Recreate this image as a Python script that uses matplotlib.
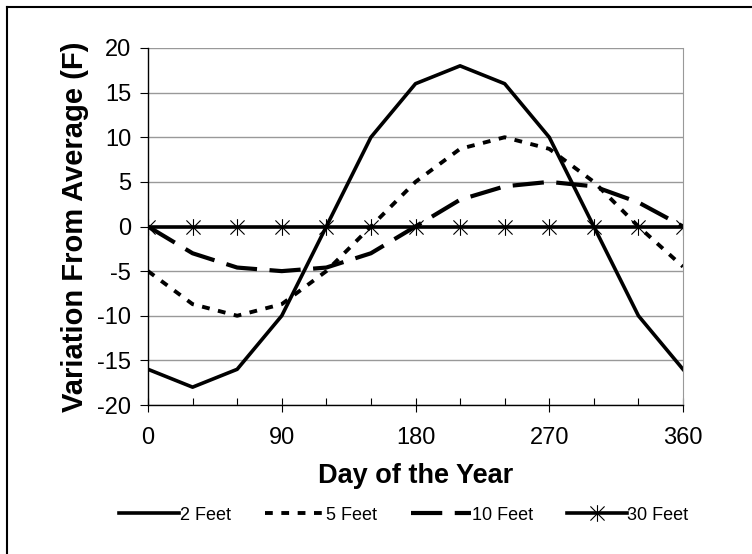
import numpy as np
import matplotlib.pyplot as plt
from matplotlib.lines import Line2D
from matplotlib.path import Path

plt.rcParams['font.family'] = ['Liberation Sans', 'DejaVu Sans']
plt.rcParams['axes.unicode_minus'] = False

days = [0, 30, 60, 90, 120, 150, 180, 210, 240, 270, 300, 330, 360]
feet2 = [-16, -18, -16, -10, 0, 10, 16, 18, 16, 10, 0, -10, -16]
feet5 = [-5, -8.7, -10, -8.7, -5, 0, 5, 8.7, 10, 8.7, 5, 0, -4.5]
feet10 = [0, -3, -4.6, -5, -4.6, -3, 0, 3, 4.5, 5, 4.5, 2.7, 0]
feet30 = [0] * 13

# excel style asterisk: a vertical stroke plus an X
star = Path([(0, -1), (0, 1), (-0.85, -0.85), (0.85, 0.85), (-0.85, 0.85), (0.85, -0.85)],
            [Path.MOVETO, Path.LINETO, Path.MOVETO, Path.LINETO, Path.MOVETO, Path.LINETO])

fig = plt.figure(figsize=(7.52, 5.54), dpi=100)
ax = fig.add_axes([148 / 752, (554 - 405) / 554, (683 - 148) / 752, (405 - 48) / 554])

ax.plot(days, feet2, color='black', lw=2.6, label='2 Feet')
ax.plot(days, feet5, color='black', lw=2.8, dashes=(2.0, 2.2), label='5 Feet')
ax.plot(days, feet10, color='black', lw=3.0, dashes=(7.5, 3.0), label='10 Feet')
ax.plot(days, feet30, color='black', lw=2.6, marker=star, markersize=12,
        markeredgewidth=0.8, label='30 Feet')

ax.set_xlim(0, 360)
ax.set_ylim(-20, 20)
ax.set_xticks([0, 90, 180, 270, 360])
ax.set_xticks(days, minor=True)
ax.set_yticks(np.arange(-20, 21, 5))
ax.yaxis.grid(True, color='#999999', lw=1)
ax.set_axisbelow(True)

ax.tick_params(axis='x', which='major', direction='inout', length=10, width=0.8,
               labelsize=17, pad=11)
ax.tick_params(axis='x', which='minor', direction='in', length=5, width=0.8)
ax.tick_params(axis='y', which='major', direction='out', length=6, width=0.8,
               labelsize=17, pad=6)

ax.spines['right'].set_color('#999999')
ax.spines['top'].set_visible(False)
ax.spines['left'].set_linewidth(1)
ax.spines['bottom'].set_linewidth(1)

ax.set_xlabel('Day of the Year', fontsize=19.5, fontweight='bold', labelpad=10)
ax.set_ylabel('Variation From Average (F)', fontsize=21, fontweight='bold', labelpad=6)

leg = fig.legend(loc='center', bbox_to_anchor=(404 / 752, 1 - 515 / 554), ncol=4,
                 frameon=False, fontsize=13, handlelength=3.3, handletextpad=0.05,
                 columnspacing=1.9)

# chart frame (only the top and left edges are visible in the crop)
fig.add_artist(Line2D([7 / 752, 1], [1 - 7 / 554, 1 - 7 / 554], color='black', lw=1.5))
fig.add_artist(Line2D([7 / 752, 7 / 752], [0, 1 - 7 / 554], color='black', lw=1.5))

fig.savefig('out.png', dpi=100)
